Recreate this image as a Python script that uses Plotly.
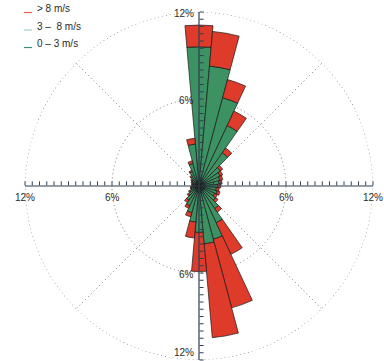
import numpy as np
import plotly.graph_objects as go

# ---- data ----
directions = list(range(0, 360, 10))  # degrees, compass
speed_classes = ["0 – 3 m/s", "3 –  8 m/s", "> 8 m/s"]
freq_0_3 = [0.6, 0.6, 0.5, 0.5, 0.4, 0.4, 0.4, 0.4, 0.4, 0.4, 0.4, 0.4,
            0.4, 0.4, 0.4, 0.4, 0.5, 0.5, 0.5, 0.4, 0.4, 0.4, 0.4, 0.3,
            0.3, 0.3, 0.3, 0.25, 0.25, 0.25, 0.3, 0.3, 0.3, 0.4, 0.4, 0.4]
freq_3_8 = [9.0, 7.7, 5.8, 4.1, 2.4, 1.4, 1.2, 1.1, 1.0, 0.9, 0.8, 0.9,
            0.8, 1.0, 1.5, 2.4, 3.3, 3.5, 2.7, 2.1, 1.5, 1.1, 0.8, 0.6,
            0.4, 0.25, 0.25, 0.2, 0.2, 0.2, 0.25, 0.3, 0.5, 0.7, 1.2, 2.5]
freq_gt8 = [1.5, 2.4, 1.3, 1.1, 0.4, 0.2, 0.2, 0.2, 0.2, 0.2, 0.2, 0.2,
            0.2, 0.2, 0.3, 2.4, 4.9, 6.5, 2.7, 1.1, 0.3, 0.2, 0.2, 0.1,
            0.1, 0.05, 0.05, 0.05, 0.05, 0.05, 0.05, 0.1, 0.1, 0.1, 0.2, 0.4]
tick_values = [v / 2 for v in range(1, 25)]
label_values = [6, 12]
label_texts = ["6%", "12%"]

bar_colors = ["#2f8055", "#3c9262", "#de3b2b"]
legend_colors = ["#3d8f6a", "#9fd3bb", "#e8604a"]

font = dict(family="Liberation Sans, Arial, sans-serif", size=10, color="#2a2a2a")
axis_color = "#2f3f52"
grid_color = "#7a7a7a"
r_max = 12

fig = go.Figure()
for name, vals, col in zip(speed_classes, [freq_0_3, freq_3_8, freq_gt8], bar_colors):
    fig.add_trace(go.Barpolar(
        r=vals, theta=directions, width=10, name=name,
        marker=dict(color=col, line=dict(color="#1a1a1a", width=0.7)),
        showlegend=False,
    ))

# outer dotted boundary circle (grid decoration)
circle_theta = np.linspace(0, 360, 361)
fig.add_trace(go.Scatterpolar(
    r=[r_max] * len(circle_theta), theta=circle_theta, mode="lines",
    line=dict(color=grid_color, width=1.2, dash="1px,3px"),
    showlegend=False, hoverinfo="skip", cliponaxis=False,
))

layout = dict(
    width=384, height=361,
    margin=dict(l=25, r=11, t=12, b=1, autoexpand=False),
    paper_bgcolor="white",
    font=font,
    polar=dict(
        domain=dict(x=[0, 1], y=[0, 1]),
        bgcolor="white",
        barmode="stack",
        radialaxis=dict(range=[0, r_max], tickvals=[6], showticklabels=False,
                        ticks="", showline=False, showgrid=True,
                        gridcolor=grid_color, griddash="1px,3px", gridwidth=1.2),
        angularaxis=dict(direction="clockwise", rotation=90,
                         tickvals=[45, 135, 225, 315], showticklabels=False,
                         ticks="", showline=False, showgrid=True,
                         gridcolor=grid_color, griddash="1px,3px", gridwidth=1.2),
    ),
)

ray_specs = [(90, "counterclockwise"), (0, "clockwise"),
             (180, "counterclockwise"), (270, "clockwise")]
for i, (ang, side) in enumerate(ray_specs, start=2):
    key = f"polar{i}"
    fig.add_trace(go.Scatterpolar(r=[], theta=[], subplot=key,
                                  showlegend=False, hoverinfo="skip"))
    layout[key] = dict(
        domain=dict(x=[0, 1], y=[0, 1]),
        bgcolor="rgba(0,0,0,0)",
        radialaxis=dict(range=[0, r_max], angle=ang, side=side,
                        tickvals=tick_values, showticklabels=False,
                        ticks="inside", ticklen=4, tickcolor=axis_color,
                        tickwidth=1, showline=True, linecolor=axis_color,
                        linewidth=1.2, showgrid=False),
        angularaxis=dict(visible=False),
    )

fig.update_layout(**layout)

# percent labels along the four axis rays (polar domain fills the paper area)
for v, t in zip(label_values, label_texts):
    frac = 0.5 * v / r_max
    # horizontal rays: labels centred under the tick
    for sgn in (-1, 1):
        fig.add_annotation(xref="paper", yref="paper", x=0.5 + sgn * frac, y=0.5,
                           yshift=-11.5, text=t, showarrow=False,
                           xanchor="center", yanchor="middle", font=font)
    # vertical rays: labels left of the axis (bottom-most kept inside the page)
    for sgn in (-1, 1):
        at_bottom_edge = sgn < 0 and v == r_max
        fig.add_annotation(xref="paper", yref="paper", x=0.5, y=0.5 + sgn * frac,
                           xshift=-3, yshift=0 if at_bottom_edge else -1.5,
                           text=t, showarrow=False, xanchor="right",
                           yanchor="bottom" if at_bottom_edge else "middle",
                           font=font)

# legend drawn as short dashes + labels (top-left)
def px_x(p):
    return (p - 25) / 348

def px_y(p):
    return 1 - (p - 12) / 348

legend_order = [2, 1, 0]
for row, idx in enumerate(legend_order):
    y_text = 8.5 + row * 17.5
    fig.add_shape(type="line", xref="paper", yref="paper",
                  x0=px_x(24), x1=px_x(32), y0=px_y(y_text + 4), y1=px_y(y_text + 4),
                  line=dict(color=legend_colors[idx], width=1.2))
    fig.add_annotation(xref="paper", yref="paper", x=px_x(35), y=px_y(y_text),
                       text=speed_classes[idx], showarrow=False,
                       xanchor="left", yanchor="middle", font=font)

# remove the browser's default 8px body margin so the figure sits at the page origin
fig.write_html("out.html", config={"displayModeBar": False},
               post_script="document.body.style.margin='0px';")
